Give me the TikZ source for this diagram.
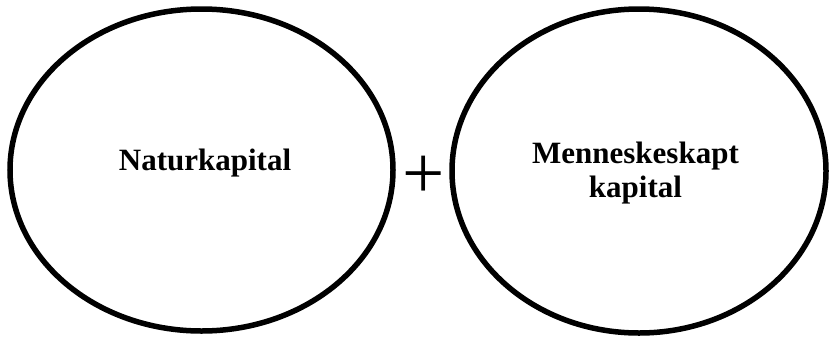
\documentclass[tikz,border=0pt]{standalone}
\usepackage{fontspec}
\setmainfont{Liberation Serif}
\usetikzlibrary{shapes.geometric}
\begin{document}
\begin{tikzpicture}[x=1pt,y=-1pt,
  capital/.style={draw=black, line width=5.5pt, ellipse, inner sep=0pt, outer sep=0pt},
  label/.style={font=\bfseries\fontsize{31}{34}\selectfont, align=center, inner sep=0pt, anchor=base},
  plussign/.style={font=\fontsize{75}{75}\selectfont, inner sep=0pt, anchor=base}]
  \useasboundingbox (0,0) rectangle (829,338);
  \node[capital, minimum width=383pt, minimum height=322pt] (nat) at (201.5,170) {};
  \node[capital, minimum width=374pt, minimum height=324pt] (men) at (639,171) {};
  \node[label] (natlbl) at (205,170) {Naturkapital};
  \node[label] (menlbl) at (635.5,197) {Menneskeskapt\\kapital};
  \node[plussign] (plus) at (424,198) {+};
\end{tikzpicture}
\end{document}
